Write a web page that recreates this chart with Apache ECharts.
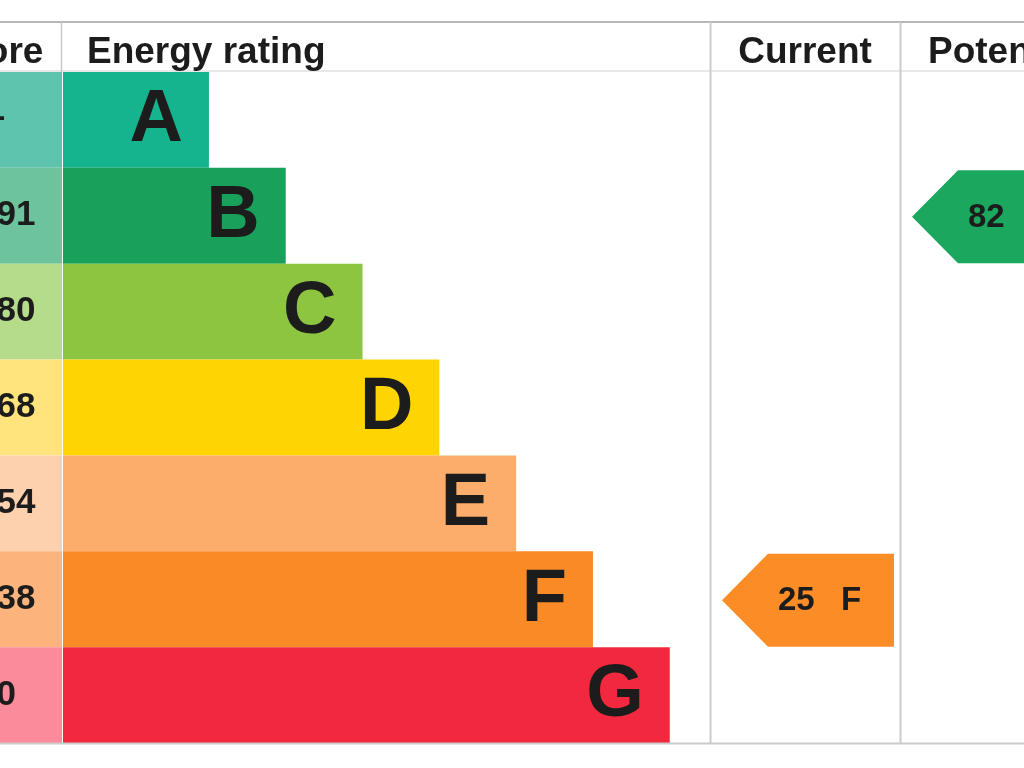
<!DOCTYPE html>
<html>
<head>
<meta charset="utf-8">
<script src="https://cdn.jsdelivr.net/npm/echarts@6/dist/echarts.min.js"></script>
<style>
  html, body { margin: 0; padding: 0; background: #ffffff; }
  #chart { width: 1024px; height: 768px; }
</style>
</head>
<body>
<div id="chart"></div>
<script>
// ---- data ----
const bands = ['A', 'B', 'C', 'D', 'E', 'F', 'G'];
const scoreRanges = ['92+', '81-91', '69-80', '55-68', '39-54', '21-38', '1-20'];
const barLengths = [19, 29, 39, 49, 59, 69, 79];
const headers = ['Score', 'Energy rating', 'Current', 'Potential'];
const currentRating = [[25, 'F']];
const potentialRating = [[82, 'B']];

// ---- styles ----
const bandColors = ['#15b38e', '#19a05a', '#8dc541', '#ffd400', '#fcad6b', '#fa8a26', '#f2283e'];
const scoreColors = ['#5ec4ae', '#6dc49c', '#b5dc8b', '#ffe47e', '#fdd1ae', '#fdb37c', '#fb8a9b'];
const arrowColors = { current: '#fb8c26', potential: '#1ca75e' };
const FONT = '"Liberation Sans", Arial, Helvetica, sans-serif';
const TEXT = '#1c1c1c';
const COL_W = 189;

const chart = echarts.init(document.getElementById('chart'), null, { renderer: 'canvas' });

function textEl(x, y, text, font, align) {
  return {
    type: 'text', x: x, y: y,
    style: { text: text, font: font, fill: TEXT, align: align, textAlign: align,
             verticalAlign: 'middle', textVerticalAlign: 'middle' }
  };
}

function arrowRender(color, rows) {
  return function (params, api) {
    const cs = params.coordSys;
    const c = api.coord([0, api.value(1)]);
    const h = api.size([0, 1])[1] - 3;
    const cy = c[1] + 1;
    const tip = cs.x + 11;
    const right = cs.x + COL_W - 6;
    const item = rows[params.dataIndex];
    return {
      type: 'group',
      children: [
        { type: 'polygon',
          shape: { points: [[tip, cy], [tip + 46, cy - h / 2], [right, cy - h / 2], [right, cy + h / 2], [tip + 46, cy + h / 2]] },
          style: { fill: color } },
        textEl(tip + 56, cy + 1, String(item[0]), 'bold 33px ' + FONT, 'left'),
        textEl(tip + 119, cy + 1, item[1], 'bold 33px ' + FONT, 'left')
      ]
    };
  };
}

function headerText(x, text, align) {
  return { type: 'text', z: 100, x: x, y: 53,
    style: { text: text, font: 'bold 37px ' + FONT, fill: TEXT, align: align, textAlign: align,
             verticalAlign: 'middle', textVerticalAlign: 'middle' } };
}
function rule(x1, y1, x2, y2, color, w) {
  return { type: 'line', z: 100, shape: { x1: x1, y1: y1, x2: x2, y2: y2 }, style: { stroke: color, lineWidth: w } };
}

const gridTop = 72, gridHeight = 671;
const option = {
  animation: false,
  backgroundColor: '#ffffff',
  grid: [
    { left: 0, top: gridTop, width: 62, height: gridHeight },
    { left: 63, top: gridTop, width: 647, height: gridHeight },
    { left: 711, top: gridTop, width: COL_W, height: gridHeight },
    { left: 901, top: gridTop, right: 0, height: gridHeight }
  ],
  xAxis: [
    { type: 'value', gridIndex: 0, min: 0, max: 1, show: false },
    { type: 'value', gridIndex: 1, min: 0, max: 84.24, show: false },
    { type: 'value', gridIndex: 2, min: 0, max: 100, show: false },
    { type: 'value', gridIndex: 3, min: 0, max: 100, show: false }
  ],
  yAxis: [0, 1, 2, 3].map(i => ({
    type: 'category', gridIndex: i, data: bands, inverse: true, show: false
  })),
  series: [
    {
      name: 'score', type: 'custom', xAxisIndex: 0, yAxisIndex: 0,
      encode: { x: 0, y: 1 },
      data: bands.map(b => [0, b]),
      renderItem: function (params, api) {
        const cs = params.coordSys;
        const i = params.dataIndex;
        const c = api.coord([0, api.value(1)]);
        const h = api.size([0, 1])[1];
        return {
          type: 'group',
          children: [
            { type: 'rect', shape: { x: cs.x - 100, y: c[1] - h / 2, width: cs.width + 100, height: h },
              style: { fill: scoreColors[i] } },
            textEl(cs.x - 54, c[1], scoreRanges[i], 'bold 35px ' + FONT, 'left')
          ]
        };
      }
    },
    {
      name: 'rating', type: 'custom', xAxisIndex: 1, yAxisIndex: 1,
      encode: { x: 0, y: 1 },
      data: bands.map((b, i) => [barLengths[i], b]),
      renderItem: function (params, api) {
        const i = params.dataIndex;
        const s = api.coord([0, api.value(1)]);
        const e = api.coord([api.value(0), api.value(1)]);
        const h = api.size([0, 1])[1];
        return {
          type: 'group',
          children: [
            { type: 'rect', shape: { x: s[0], y: s[1] - h / 2, width: e[0] - s[0], height: h },
              style: { fill: bandColors[i] } },
            textEl(e[0] - 26, s[1] + 1, bands[i], 'bold 74px ' + FONT, 'right')
          ]
        };
      }
    },
    {
      name: 'current', type: 'custom', xAxisIndex: 2, yAxisIndex: 2,
      encode: { x: 0, y: 1 },
      data: currentRating,
      renderItem: arrowRender(arrowColors.current, currentRating)
    },
    {
      name: 'potential', type: 'custom', xAxisIndex: 3, yAxisIndex: 3,
      encode: { x: 0, y: 1 },
      data: potentialRating,
      renderItem: arrowRender(arrowColors.potential, potentialRating)
    }
  ],
  graphic: [
    rule(0, 22, 1024, 22, '#b8b8b8', 2),
    rule(0, 71, 1024, 71, '#d2d2d2', 1),
    rule(0, 743.5, 1024, 743.5, '#cbcbcb', 2),
    rule(61.5, 22, 61.5, 72, '#c8c8c8', 1.5),
    rule(710.5, 22, 710.5, 744, '#cccccc', 2),
    rule(900.5, 22, 900.5, 744, '#cccccc', 2),
    headerText(-8, headers[0], 'center'),
    headerText(87, headers[1], 'left'),
    headerText(805, headers[2], 'center'),
    headerText(928, headers[3], 'left')
  ]
};
chart.setOption(option);
</script>
</body>
</html>
